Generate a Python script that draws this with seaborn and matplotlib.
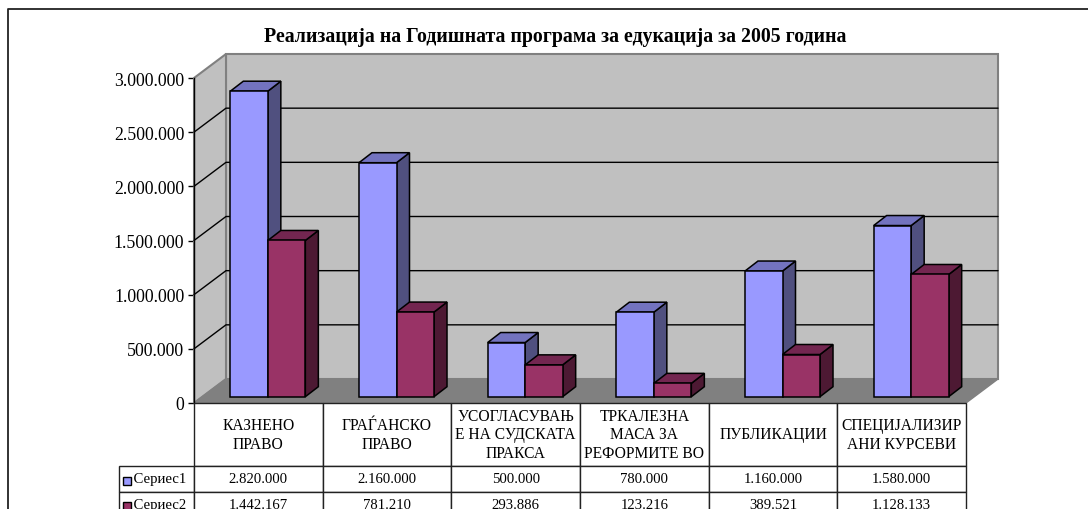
import matplotlib
matplotlib.use("Agg")
import matplotlib.pyplot as plt
import matplotlib.patches as mpatches
from matplotlib.lines import Line2D
from matplotlib.transforms import Affine2D
import pandas as pd
import seaborn as sns

categorias = ["КАЗНЕНО\nПРАВО", "ГРАЃАНСКО\nПРАВО", "УСОГЛАСУВАЊ\nЕ НА СУДСКАТА\nПРАКСА",
              "ТРКАЛЕЗНА\nМАСА ЗА\nРЕФОРМИТЕ ВО", "ПУБЛИКАЦИИ", "СПЕЦИЈАЛИЗИР\nАНИ КУРСЕВИ"]
serie1 = [2820000, 2160000, 500000, 780000, 1160000, 1580000]
serie2 = [1442167, 781210, 293886, 123216, 389521, 1128133]
nombres = ["Сериес1", "Сериес2"]
ticks = [0, 500000, 1000000, 1500000, 2000000, 2500000, 3000000]
titulo = "Реализација на Годишната програма за едукација за 2005 година"

W, H = 1088, 510
sns.set_theme(style="white")
plt.rcParams["font.family"] = ["Liberation Serif", "DejaVu Serif"]

# plano frontal del grafico, en pixeles
x0, x1, y0, y1 = 194, 966, 404, 79
fig = plt.figure(figsize=(W / 100, H / 100), dpi=100)
ax = fig.add_axes([x0 / W, (H - y0) / H, (x1 - x0) / W, (y0 - y1) / H])

df = pd.DataFrame({
    "cat": categorias * 2,
    "serie": [nombres[0]] * 6 + [nombres[1]] * 6,
    "valor": serie1 + serie2,
})
colores = {nombres[0]: "#9999FF", nombres[1]: "#993366"}
lados = ["#50507F", "#4D1933"]
tapas = ["#7373BF", "#732650"]

sns.barplot(data=df, x="cat", y="valor", hue="serie", order=categorias, hue_order=nombres,
            palette=colores, width=0.583, gap=0, saturation=1, edgecolor="black", linewidth=1.1,
            legend=False, ax=ax, zorder=5)
barras = list(ax.patches)
ax.set_xlim(-0.5, 5.5)
ax.set_ylim(0, 3000000)

px_x = (x1 - x0) / 6
px_y = (y0 - y1) / 3000000
sx = lambda p: p / px_x
sy = lambda p: p / px_y

# paredes y piso, fondo 32x24 px
fx, fy = sx(32), sy(24)
izq, der = -0.5, 5.5
ax.add_patch(mpatches.Polygon([(izq + fx, fy), (der + fx, fy), (der + fx, 3000000 + fy), (izq + fx, 3000000 + fy)],
                              fc="#C0C0C0", ec="#808080", lw=1.5, clip_on=False, zorder=1))
ax.add_patch(mpatches.Polygon([(izq, 0), (izq + fx, fy), (izq + fx, 3000000 + fy), (izq, 3000000)],
                              fc="#C0C0C0", ec="#808080", lw=1.5, clip_on=False, zorder=1))
ax.add_patch(mpatches.Polygon([(izq, 0), (der, 0), (der + fx, fy), (izq + fx, fy)],
                              fc="#808080", ec="#808080", lw=1, clip_on=False, zorder=2))
for t in ticks[1:-1]:
    ax.plot([izq, izq + fx, der + fx], [t, t + fy, t + fy], color="black", lw=1, clip_on=False, zorder=3)

# barras 3D: caras frontales corridas dentro del piso
corrido = Affine2D().translate(9.5, 6.3)
dx, dy = sx(13), sy(10)
n = len(categorias)
for i, bar in enumerate(barras[:2 * n]):
    s = 0 if i < n else 1
    xb, w, h = bar.get_x(), bar.get_width(), bar.get_height()
    z = 5 + (xb + 0.5) * 2
    bar.set_transform(ax.transData + corrido)
    bar.set_clip_on(False)
    bar.set_zorder(z + 0.2)
    ax.add_patch(mpatches.Polygon([(xb + w, 0), (xb + w + dx, dy), (xb + w + dx, h + dy), (xb + w, h)],
                                  fc=lados[s], ec="black", lw=1.1, clip_on=False, zorder=z,
                                  transform=ax.transData + corrido))
    ax.add_patch(mpatches.Polygon([(xb, h), (xb + w, h), (xb + w + dx, h + dy), (xb + dx, h + dy)],
                                  fc=tapas[s], ec="black", lw=1.1, clip_on=False, zorder=z,
                                  transform=ax.transData + corrido))

# ejes
sns.despine(ax=ax, left=False, bottom=True, top=True, right=True)
ax.spines["left"].set_color("black")
ax.spines["left"].set_linewidth(1)
ax.spines["left"].set_zorder(4)
ax.set_yticks(ticks)
ax.set_yticklabels([f"{t:,}".replace(",", ".") for t in ticks], fontsize=12.8, color="black")
ax.tick_params(axis="y", left=True, length=4, width=1, color="black", pad=3)
ax.set_xticks([])
ax.set_xlabel("")
ax.set_ylabel("")

# tabla de datos, la primera columna lleva los nombres de las series
celdas = [["  " + nombres[0]] + [f"{v:,}".replace(",", ".") for v in serie1],
          ["  " + nombres[1]] + [f"{v:,}".replace(",", ".") for v in serie2]]
tx0, ty_fin = 119, 518
tabla = ax.table(cellText=celdas, colLabels=[""] + categorias, cellLoc="center",
                 bbox=[(tx0 - x0) / (x1 - x0), (y0 - ty_fin) / (y0 - y1),
                       (x1 - tx0) / (x1 - x0), (ty_fin - y0) / (y0 - y1)])
tabla.auto_set_font_size(False)
for (r, c), celda in tabla.get_celld().items():
    celda.set_height(63 if r == 0 else 25.5)
    celda.set_width(x0 - tx0 if c == 0 else px_x)
    celda.set_linewidth(1)
    celda.set_edgecolor("#222222")
    celda.PAD = 0.02
    celda.set_text_props(fontsize=11.2 if r == 0 else 10.6, color="black", linespacing=1.2)
    celda.set_clip_on(False)
tabla[0, 0].set_visible(False)
tabla.set_zorder(6)

# muestras de color de la leyenda
for k, nombre in enumerate(nombres):
    yc = 481.5 + 25 * k
    fig.add_artist(mpatches.Rectangle((123 / W, (H - yc - 4) / H), 8 / W, 8 / H,
                                      fc=colores[nombre], ec="black", lw=1, zorder=10))

fig.text(555.5 / W, 1 - 37 / H, titulo, ha="center", va="center", fontsize=14.3, fontweight="bold", color="black")

# marco exterior: solo izquierda y arriba se ven
fig.add_artist(Line2D([8 / W, 8 / W, 1], [0, 1 - 10 / H, 1 - 10 / H], color="#222222", lw=1.3))

fig.savefig("out.png", dpi=100)
